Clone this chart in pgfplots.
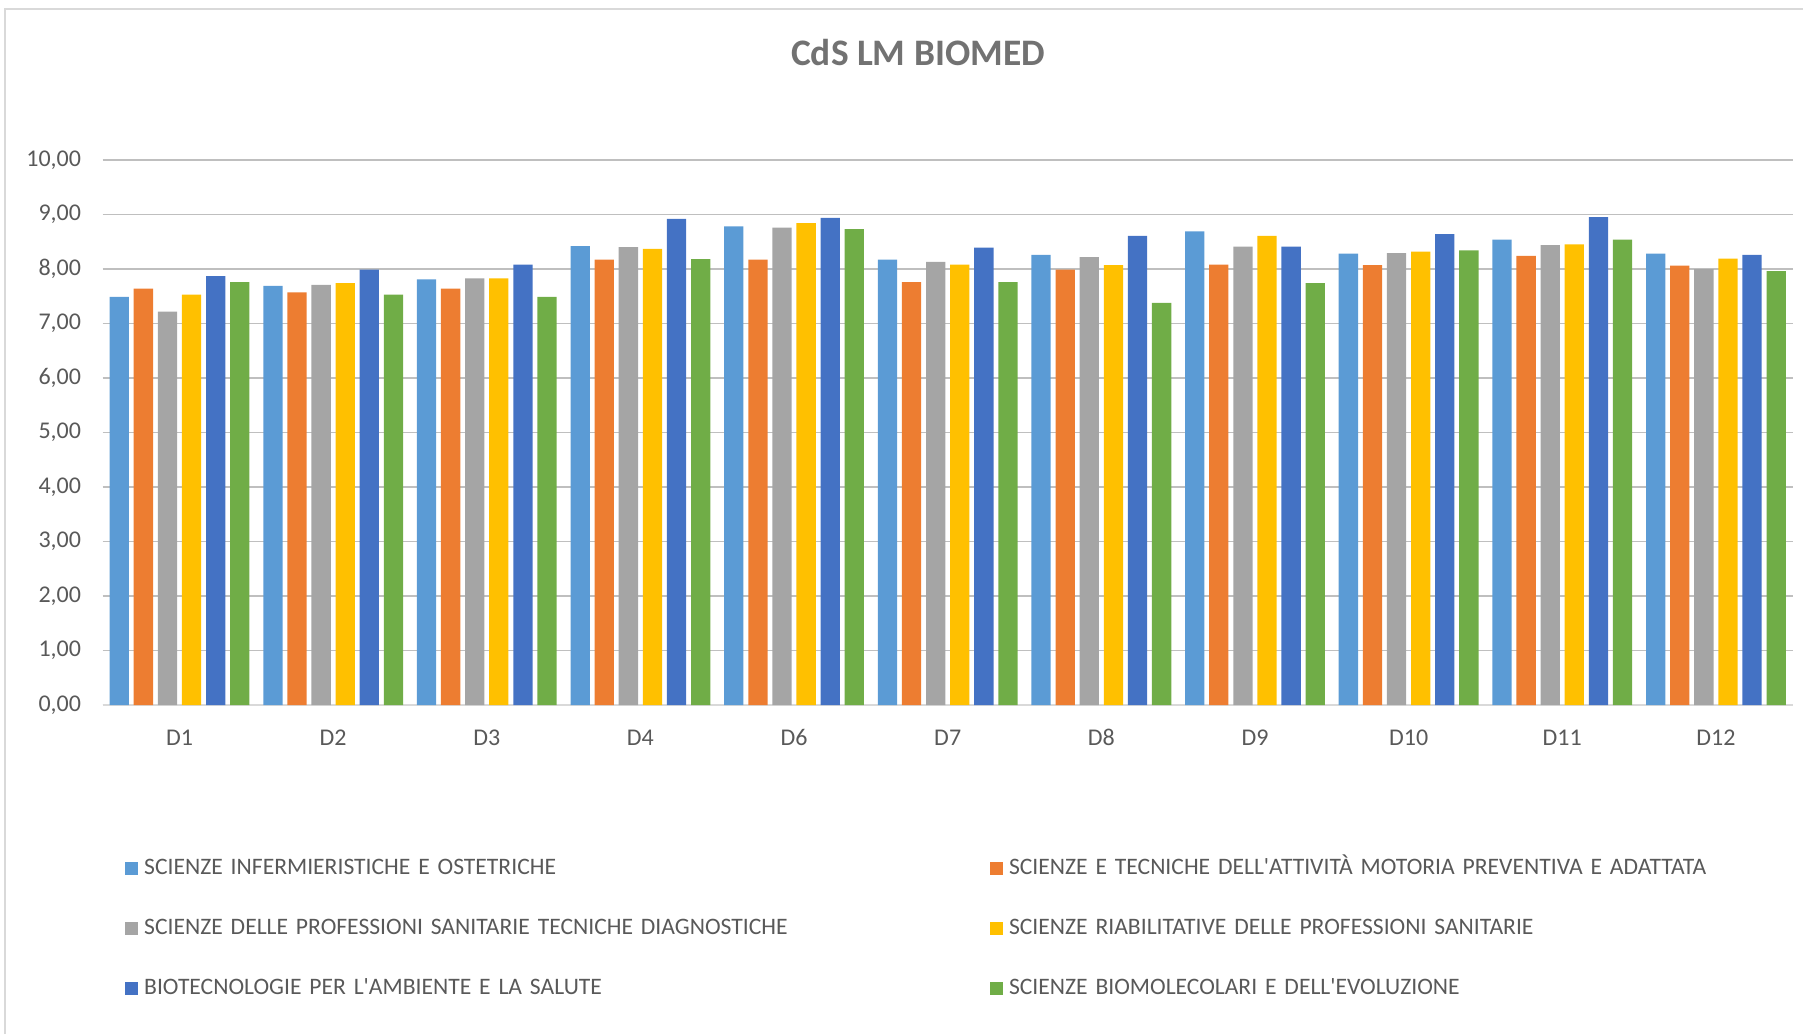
\documentclass[border=0pt]{standalone}
\usepackage{fontspec}
\setmainfont{Carlito}
\usepackage{pgfplots}
\pgfplotsset{compat=1.18}
\definecolor{txt}{HTML}{595959}
\definecolor{grid}{HTML}{D9D9D9}
\definecolor{cA}{HTML}{5B9BD5}
\definecolor{cB}{HTML}{ED7D31}
\definecolor{cC}{HTML}{A5A5A5}
\definecolor{cD}{HTML}{FFC000}
\definecolor{cE}{HTML}{4472C4}
\definecolor{cF}{HTML}{70AD47}
\newcommand{\q}{\textquotesingle}
\begin{document}
\begin{tikzpicture}
% page frame: 1803x1034 px at 0.5pt per px
\path[use as bounding box] (0,0) rectangle (901.5pt,517pt);
\draw[grid, line width=0.75pt] (2.5pt,0) -- (2.5pt,512.5pt) -- (901.5pt,512.5pt);
\node[font=\bfseries\fontsize{18.7}{22}\selectfont, text=txt!85!white] at (459pt,490.5pt) {CdS LM BIOMED};
\begin{axis}[
  at={(51.35pt,164.5pt)}, anchor=south west,
  scale only axis, width=845pt, height=272.5pt,
  ybar=2.4pt, bar width=9.65pt,
  xmin=-0.5, xmax=10.5, ymin=0, ymax=10,
  xtick=data, xticklabels={D1,D2,D3,D4,D6,D7,D8,D9,D10,D11,D12},
  ytick={0,1,...,10},
  axis lines*=left,
  x axis line style={grid, line width=0.75pt, -},
  y axis line style={draw=none},
  major tick length=0pt,
  xmajorgrids=false, ymajorgrids, major grid style={grid, line width=0.6pt},
  tick label style={font=\fontsize{12}{14}\selectfont, text=txt},
  xticklabel style={yshift=-8pt, text height=8.5pt, text depth=0pt},
  yticklabel style={xshift=-7.3pt, /pgf/number format/.cd, fixed, fixed zerofill, precision=2, use comma, assume math mode=true},
  legend columns=2,
  legend style={at={(0.0132,-0.2796)}, anchor=north west, draw=none, fill=none,
    inner sep=0pt, row sep=19pt, column sep=3pt,
    font=\fontsize{11.8}{14}\selectfont, text=txt,
    nodes={inner sep=0pt, text height=8.5pt, text depth=2.5pt},
    /tikz/every even column/.append style={text width=420pt, align=left}},
  legend cell align=left,
  legend image code/.code={\fill[#1] (0pt,-3.2pt) rectangle (6.4pt,3.2pt);},
]
\addplot[fill=cA, draw=none] coordinates {(0,7.49) (1,7.69) (2,7.81) (3,8.42) (4,8.78) (5,8.17) (6,8.26) (7,8.69) (8,8.28) (9,8.54) (10,8.28)};
\addlegendentry{SCIENZE INFERMIERISTICHE E OSTETRICHE}
\addplot[fill=cB, draw=none] coordinates {(0,7.64) (1,7.57) (2,7.64) (3,8.17) (4,8.17) (5,7.76) (6,7.99) (7,8.08) (8,8.07) (9,8.24) (10,8.06)};
\addlegendentry{SCIENZE E TECNICHE DELL\q ATTIVITÀ MOTORIA PREVENTIVA E ADATTATA}
\addplot[fill=cC, draw=none] coordinates {(0,7.22) (1,7.71) (2,7.83) (3,8.40) (4,8.76) (5,8.13) (6,8.22) (7,8.41) (8,8.29) (9,8.44) (10,8.00)};
\addlegendentry{SCIENZE DELLE PROFESSIONI SANITARIE TECNICHE DIAGNOSTICHE}
\addplot[fill=cD, draw=none] coordinates {(0,7.53) (1,7.74) (2,7.83) (3,8.37) (4,8.84) (5,8.08) (6,8.07) (7,8.61) (8,8.32) (9,8.45) (10,8.19)};
\addlegendentry{SCIENZE RIABILITATIVE DELLE PROFESSIONI SANITARIE}
\addplot[fill=cE, draw=none] coordinates {(0,7.87) (1,7.99) (2,8.08) (3,8.92) (4,8.94) (5,8.39) (6,8.61) (7,8.41) (8,8.64) (9,8.95) (10,8.26)};
\addlegendentry{BIOTECNOLOGIE PER L\q AMBIENTE E LA SALUTE}
\addplot[fill=cF, draw=none] coordinates {(0,7.76) (1,7.53) (2,7.49) (3,8.18) (4,8.73) (5,7.76) (6,7.38) (7,7.74) (8,8.34) (9,8.54) (10,7.96)};
\addlegendentry{SCIENZE BIOMOLECOLARI E DELL\q EVOLUZIONE}
\end{axis}
\end{tikzpicture}
\end{document}
